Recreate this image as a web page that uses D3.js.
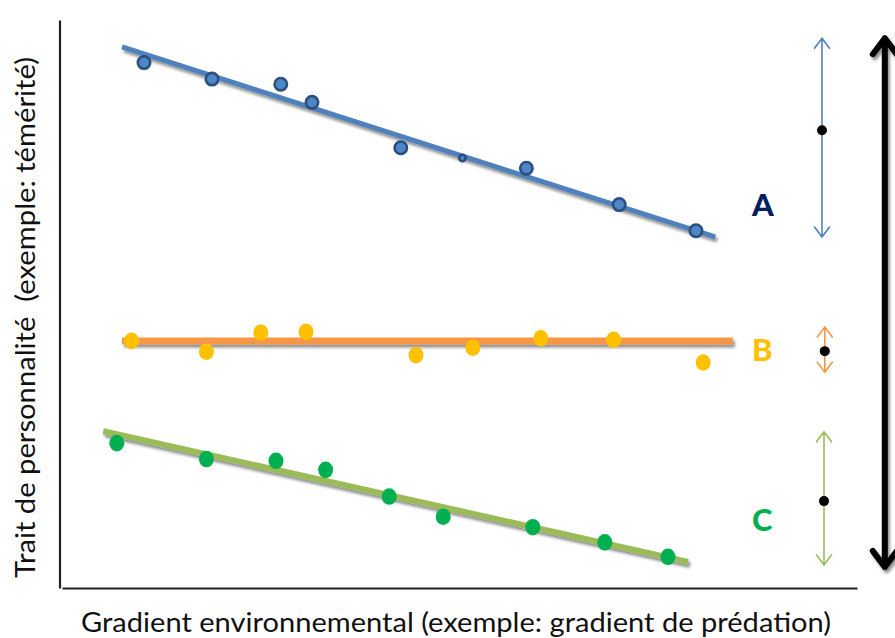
<!DOCTYPE html>
<html>
<head>
<meta charset="utf-8">
<script src="https://cdn.jsdelivr.net/npm/d3@7"></script>
<style>
  html, body { margin: 0; padding: 0; background: #fff; }
  svg { display: block; }
</style>
</head>
<body>
<svg id="chart" width="895" height="638"></svg>
<script>
// ---------- data ----------
const seriesNames = ["A", "B", "C"];

// Series A (bleu)
const aX = [10.5, 19.0, 27.6, 31.5, 42.6, 50.3, 58.3, 69.9, 79.5];
const aY = [92.5, 89.6, 88.7, 85.5, 77.5, 75.7, 73.9, 67.5, 62.9];
const aSmall = [false, false, false, false, false, true, false, false, false];
const aLineX = [7.75, 81.9];
const aLineY = [95.25, 61.8];

// Series B (jaune / orange)
const bX = [8.95, 18.3, 25.1, 30.75, 44.5, 51.6, 60.1, 69.2, 80.4];
const bY = [43.5, 41.6, 44.95, 45.1, 41.0, 42.3, 43.96, 43.7, 39.7];
const bLineX = [7.75, 84.1];
const bLineY = [43.5, 43.5];

// Series C (vert)
const cX = [7.1, 18.3, 27.0, 33.2, 41.15, 47.9, 59.1, 68.1, 76.0];
const cY = [25.5, 22.7, 22.4, 20.8, 16.1, 12.55, 10.7, 8.05, 5.5];
const cLineX = [5.4, 78.5];
const cLineY = [27.6, 4.6];

// Variation ranges shown on the right (low, mean, high)
const rangeX = [95.25, 95.6, 95.5];
const rangeLow = [61.8, 38.0, 4.05];
const rangeMean = [80.6, 41.7, 15.3];
const rangeHigh = [96.8, 45.95, 27.5];

// Overall range (big black arrow)
const totalX = 103.1;
const totalRange = [3.7, 96.8];

// Letter labels
const labelX = 86.5;
const labelY = [65.5, 40.0, 10.0];

const xTitle = "Gradient environnemental (exemple: gradient de prédation)";
const yTitle = "Trait de personnalité  (exemple: témérité)";

// ---------- styling ----------
const lineColors = ["#4F81BD", "#F79646", "#9BBB59"];
const pointColors = ["#4F86C6", "#FFC000", "#00B050"];
const letterColors = ["#002060", "#FFC000", "#00B050"];
const lineWidths = [5, 7, 6];
const FONT = "Lato, 'Open Sans', 'DejaVu Sans', sans-serif";

// ---------- scales ----------
const svg = d3.select("#chart");
const x = d3.scaleLinear().domain([0, 100]).range([60, 860]);
const y = d3.scaleLinear().domain([0, 100]).range([588, 20]);

// shadow filter (user-space region so horizontal/vertical lines keep it)
const defs = svg.append("defs");
const f = defs.append("filter").attr("id", "shadow")
  .attr("filterUnits", "userSpaceOnUse")
  .attr("x", 0).attr("y", 0).attr("width", 895).attr("height", 638);
f.append("feDropShadow").attr("dx", 2).attr("dy", 3).attr("stdDeviation", 1.6)
  .attr("flood-color", "#000").attr("flood-opacity", 0.45);

// ---------- axes ----------
const yAxis = svg.append("g").attr("transform", `translate(${x(0) - 0.5},0)`)
  .call(d3.axisLeft(y).tickValues([]).tickSizeOuter(0));
const xAxis = svg.append("g").attr("transform", `translate(0,${y(0)})`)
  .call(d3.axisBottom(x.copy().range([62, 857])).tickValues([]).tickSizeOuter(0));
[yAxis, xAxis].forEach(g => g.select(".domain").attr("stroke", "#222").attr("stroke-width", 2.2));

// axis titles
svg.append("text")
  .attr("x", 81).attr("y", 631.5)
  .attr("font-family", FONT).attr("font-size", 27).attr("fill", "#111")
  .attr("textLength", 750).attr("lengthAdjust", "spacingAndGlyphs")
  .text(xTitle);

svg.append("text")
  .attr("transform", "translate(35,578) rotate(-90)")
  .attr("font-family", FONT).attr("font-size", 27).attr("fill", "#111")
  .attr("textLength", 521).attr("lengthAdjust", "spacingAndGlyphs")
  .attr("xml:space", "preserve")
  .style("white-space", "pre")
  .text(yTitle);

// ---------- regression lines ----------
const lines = [
  {xs: aLineX, ys: aLineY},
  {xs: bLineX, ys: bLineY},
  {xs: cLineX, ys: cLineY}
];
lines.forEach((l, i) => {
  svg.append("line")
    .attr("x1", x(l.xs[0])).attr("y1", y(l.ys[0]))
    .attr("x2", x(l.xs[1])).attr("y2", y(l.ys[1]))
    .attr("stroke", lineColors[i]).attr("stroke-width", lineWidths[i])
    .attr("filter", "url(#shadow)");
});

// ---------- points ----------
const aPts = aX.map((v, i) => ({x: v, y: aY[i], small: aSmall[i]}));
svg.append("g").selectAll("circle").data(aPts).join("circle")
  .attr("cx", d => x(d.x)).attr("cy", d => y(d.y))
  .attr("r", d => d.small ? 3.2 : 6.2)
  .attr("fill", pointColors[0]).attr("stroke", "#2B4F80").attr("stroke-width", 2.6);

const bPts = bX.map((v, i) => ({x: v, y: bY[i]}));
svg.append("g").selectAll("ellipse").data(bPts).join("ellipse")
  .attr("cx", d => x(d.x)).attr("cy", d => y(d.y))
  .attr("rx", 7.5).attr("ry", 8.3)
  .attr("fill", pointColors[1]);

const cPts = cX.map((v, i) => ({x: v, y: cY[i]}));
svg.append("g").selectAll("ellipse").data(cPts).join("ellipse")
  .attr("cx", d => x(d.x)).attr("cy", d => y(d.y))
  .attr("rx", 7.5).attr("ry", 8.3)
  .attr("fill", pointColors[2]);

// ---------- letters ----------
svg.append("g").selectAll("text").data(seriesNames).join("text")
  .attr("x", x(labelX)).attr("y", (d, i) => y(labelY[i]))
  .attr("font-family", FONT).attr("font-weight", 900).attr("font-size", 31)
  .attr("fill", (d, i) => letterColors[i])
  .text(d => d);

// ---------- range arrows ----------
function arrow(g, cx, yTop, yBot, hw, hh, color, width, filter) {
  const path = d3.path();
  path.moveTo(cx, yTop); path.lineTo(cx, yBot);
  path.moveTo(cx - hw, yTop + hh); path.lineTo(cx, yTop); path.lineTo(cx + hw, yTop + hh);
  path.moveTo(cx - hw, yBot - hh); path.lineTo(cx, yBot); path.lineTo(cx + hw, yBot - hh);
  const p = g.append("path").attr("d", path.toString())
    .attr("fill", "none").attr("stroke", color).attr("stroke-width", width)
    .attr("stroke-linecap", "round").attr("stroke-linejoin", "round");
  if (filter) p.attr("filter", filter);
}
const ag = svg.append("g");
seriesNames.forEach((s, i) => {
  arrow(ag, x(rangeX[i]), y(rangeHigh[i]), y(rangeLow[i]), 7.5, 10, lineColors[i], 1.6, null);
});
ag.selectAll("circle").data(seriesNames).join("circle")
  .attr("cx", (d, i) => x(rangeX[i])).attr("cy", (d, i) => y(rangeMean[i]))
  .attr("r", 5).attr("fill", "#000");

arrow(svg, x(totalX), y(totalRange[1]), y(totalRange[0]), 12, 16, "#000", 6, "url(#shadow)");
</script>
</body>
</html>
